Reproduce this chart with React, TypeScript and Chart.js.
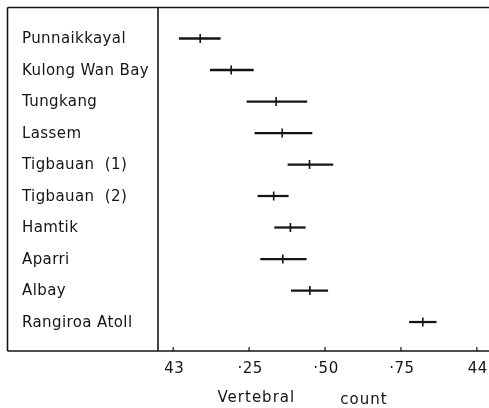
import React, { useEffect, useRef } from 'react';
import { Chart, registerables } from 'chart.js';

Chart.register(...registerables);

const categories = [
  'Punnaikkayal',
  'Kulong Wan Bay',
  'Tungkang',
  'Lassem',
  'Tigbauan  (1)',
  'Tigbauan  (2)',
  'Hamtik',
  'Aparri',
  'Albay',
  'Rangiroa Atoll',
];
const rangeLow = [43.02, 43.122, 43.243, 43.269, 43.378, 43.279, 43.334, 43.288, 43.389, 43.778];
const rangeHigh = [43.155, 43.264, 43.44, 43.457, 43.526, 43.379, 43.435, 43.438, 43.509, 43.866];
const means = [43.089, 43.191, 43.339, 43.359, 43.449, 43.331, 43.386, 43.361, 43.45, 43.822];
const tickValues = [43, 43.25, 43.5, 43.75, 44];
const tickLabels = ['43', '·25', '·50', '·75', '44'];
const titleWords = ['Vertebral', 'count'];

const INK = '#141414';
const FONT = '"DejaVu Sans", sans-serif';

const framePlugin = {
  id: 'frame',
  afterDraw(chart: any) {
    const { ctx, chartArea, scales } = chart;
    const xs = scales.x;
    const ys = scales.y;
    const L = 7.5;
    const T = chartArea.top + 0.5;
    const B = chartArea.bottom;
    const R = chart.width;
    ctx.save();
    ctx.strokeStyle = INK;
    ctx.lineWidth = 1.6;
    ctx.beginPath();
    ctx.moveTo(L, T);
    ctx.lineTo(R, T);
    ctx.moveTo(L, T);
    ctx.lineTo(L, B);
    ctx.moveTo(L, B);
    ctx.lineTo(R, B);
    ctx.moveTo(chartArea.left, T);
    ctx.lineTo(chartArea.left, B);
    ctx.stroke();
    ctx.lineWidth = 1.2;
    ctx.beginPath();
    tickValues.forEach((v) => {
      const px = xs.getPixelForValue(v);
      ctx.moveTo(px, B);
      ctx.lineTo(px, B - 4);
    });
    ctx.stroke();

    ctx.fillStyle = INK;
    ctx.font = '15px ' + FONT;
    ctx.textBaseline = 'middle';

    ctx.textAlign = 'center';
    (ctx as any).letterSpacing = '0.5px';
    tickValues.forEach((v, i) => {
      ctx.fillText(tickLabels[i], xs.getPixelForValue(v) + 1, B + 18);
    });

    ctx.textAlign = 'left';
    (ctx as any).letterSpacing = '0.4px';
    categories.forEach((c, i) => {
      ctx.fillText(c, 22, ys.getPixelForValue(i + 1) + 1);
    });

    (ctx as any).letterSpacing = '1px';
    ctx.fillText(titleWords[0], xs.getPixelForValue(43.146), 398);
    ctx.fillText(titleWords[1], xs.getPixelForValue(43.55), 400);
    ctx.restore();
  },
};

export default function App() {
  const ref = useRef<HTMLCanvasElement | null>(null);

  useEffect(() => {
    document.body.style.margin = '0';
    if (!ref.current) return;
    const chart = new Chart(ref.current, {
      type: 'bar',
      data: {
        datasets: [
          {
            type: 'bar',
            label: 'range',
            data: categories.map((_, i) => ({ x: [rangeLow[i], rangeHigh[i]], y: i + 1 })) as any,
            backgroundColor: INK,
            borderWidth: 0,
            barThickness: 1.6,
            indexAxis: 'y',
          } as any,
          {
            type: 'scatter',
            label: 'mean',
            data: categories.map((_, i) => ({ x: means[i], y: i + 1 })),
            pointStyle: 'line',
            rotation: 90,
            radius: 4.5,
            borderColor: INK,
            borderWidth: 1.6,
            showLine: false,
          } as any,
        ],
      },
      options: {
        animation: false,
        responsive: false,
        indexAxis: 'y',
        layout: { autoPadding: false, padding: { left: 7, top: 7, right: 0, bottom: 0 } },
        plugins: {
          legend: { display: false },
          tooltip: { enabled: false },
          title: { display: false },
        },
        scales: {
          x: {
            type: 'linear',
            position: 'bottom',
            offset: false,
            min: 42.95,
            max: 44.04,
            grid: { display: false, drawTicks: false, offset: false },
            border: { display: false },
            ticks: { display: false },
            afterFit: (scale: any) => {
              scale.height = 57;
            },
          },
          y: {
            type: 'linear',
            position: 'left',
            reverse: true,
            offset: false,
            min: 0,
            max: 10.92,
            grid: { display: false, drawTicks: false, offset: false },
            border: { display: false },
            ticks: { display: false },
            afterFit: (scale: any) => {
              scale.width = 151;
            },
          },
        } as any,
      },
      plugins: [framePlugin],
    } as any);
    return () => chart.destroy();
  }, []);

  return (
    <div style={{ position: 'absolute', left: 0, top: 0, width: 489, height: 408, background: '#fff' }}>
      <canvas ref={ref} width={489} height={408} style={{ width: 489, height: 408 }} />
    </div>
  );
}
